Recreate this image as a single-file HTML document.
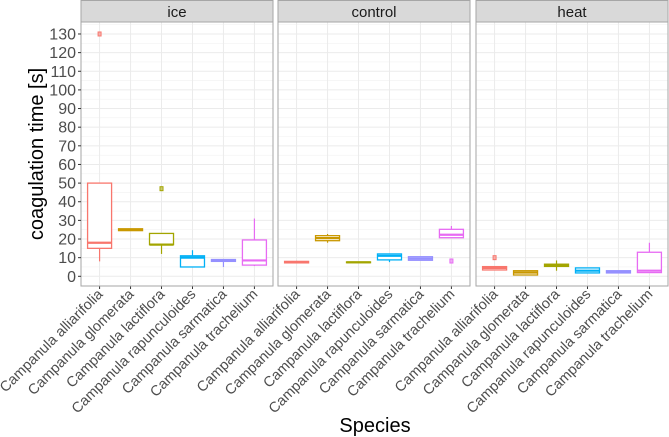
<!DOCTYPE html>
<html><head><meta charset="utf-8"><style>
body{margin:0;background:#fff}
svg{display:block;font-family:"Liberation Sans",sans-serif}
</style></head><body>
<svg id="chart" width="669" height="437"></svg>
<script>
const categories=["Campanula alliarifolia","Campanula glomerata","Campanula lactiflora","Campanula rapunculoides","Campanula sarmatica","Campanula trachelium"];
const panels=["ice","control","heat"];
const colors=["#F8766D","#C99800","#A3A500","#00B0F6","#9590FF","#E76BF3"];
const yTicks=[0,10,20,30,40,50,60,70,80,90,100,110,120,130];
// [lowWhisker, q1, median, q3, highWhisker]
const iceStats=[[8,15,18,50,50],[24.5,24.5,25,25.5,25.5],[12,17,17,23,23],[5,5,10,11,14],[5,8,8.5,9,9],[5.5,6,8.5,19.5,31]];
const controlStats=[[7,7.2,7.6,8,8.3],[18,19.1,20.5,21.8,22.7],[7.2,7.3,7.5,7.7,7.8],[7.6,8.8,11,12,12],[8.6,8.6,9.5,10.5,10.5],[20.7,20.7,22.3,25.2,27]];
const heatStats=[[3.4,3.4,4.5,5.2,5.2],[0.7,0.7,2,3,3],[3,5.3,6,6.5,8.5],[1.8,1.8,3,4.5,4.5],[1.8,1.8,2.5,3,3],[2,2,3,12.9,18]];
const iceOut=[[130],[],[47],[],[],[]];
const controlOut=[[],[],[],[],[],[8.2]];
const heatOut=[[10],[],[],[],[],[]];
const stats=[iceStats,controlStats,heatStats];
const outs=[iceOut,controlOut,heatOut];

const NS="http://www.w3.org/2000/svg";
const svg=document.getElementById("chart");
function mk(t,a,p){const e=document.createElementNS(NS,t);for(const k in a)e.setAttribute(k,a[k]);(p||svg).appendChild(e);return e;}
const pLeft=[81,278,476],pW=192,pTop=22,pBot=286;
const y=v=>276.3-v*1.864;
const step=pW/6.2;
const x=(p,i)=>pLeft[p]+step*(0.6+i);

panels.forEach((name,p)=>{
  const g=mk("g",{});
  
  
  const strip=mk("rect",{x:pLeft[p],y:0.5,width:pW,height:pTop-0.5,fill:"#d9d9d9",stroke:"#a6a6a6","stroke-width":1},g);
  
  
  const st=mk("text",{x:pLeft[p]+pW/2,y:17,"text-anchor":"middle","font-size":15,fill:"#1a1a1a"},g);
  st.textContent=name;
  
  
  for(let v=5;v<=135;v+=10){if(y(v)>pTop)mk("line",{x1:pLeft[p],x2:pLeft[p]+pW,y1:y(v),y2:y(v),stroke:"#f2f2f2","stroke-width":0.6},g);}
  yTicks.forEach(v=>mk("line",{x1:pLeft[p],x2:pLeft[p]+pW,y1:y(v),y2:y(v),stroke:"#ebebeb","stroke-width":1},g));
  categories.forEach((c,i)=>mk("line",{x1:x(p,i),x2:x(p,i),y1:pTop,y2:pBot,stroke:"#ebebeb","stroke-width":1},g));
  categories.forEach((c,i)=>{
    const s=stats[p][i],cx=x(p,i),hw=12,col=colors[i];
    const b=mk("g",{},g);
    
    
    mk("line",{x1:cx,x2:cx,y1:y(s[0]),y2:y(s[1]),stroke:col,"stroke-width":1.2},b);
    mk("line",{x1:cx,x2:cx,y1:y(s[3]),y2:y(s[4]),stroke:col,"stroke-width":1.2},b);
    mk("rect",{x:cx-hw,y:y(s[3]),width:2*hw,height:Math.max(y(s[1])-y(s[3]),0.5),fill:"#fff",stroke:col,"stroke-width":1.3},b);
    mk("line",{x1:cx-hw,x2:cx+hw,y1:y(s[2]),y2:y(s[2]),stroke:col,"stroke-width":2.2},b);
    outs[p][i].forEach(o=>{
      const d=mk("rect",{x:cx-1.5,y:y(o)-2,width:3,height:4,fill:col,"fill-opacity":0.5,stroke:col,"stroke-width":1},b);
      
      
    });
    mk("line",{x1:cx,x2:cx,y1:pBot,y2:pBot+3,stroke:"#333","stroke-width":1},g);
    const t=mk("text",{transform:`translate(${cx+4},${pBot+9}) rotate(-45)`,"text-anchor":"end","font-size":14.5,fill:"#4d4d4d"},g);
    t.textContent=c;
    
    
  });
  mk("rect",{x:pLeft[p],y:pTop,width:pW,height:pBot-pTop,fill:"none",stroke:"#a6a6a6","stroke-width":1},g);
});
yTicks.forEach(v=>{
  mk("line",{x1:78,x2:81,y1:y(v),y2:y(v),stroke:"#333","stroke-width":1});
  const t=mk("text",{x:76,y:y(v)+5.5,"text-anchor":"end","font-size":16,fill:"#4d4d4d"});
  t.textContent=v;
  
  
});
const yt=mk("text",{transform:"translate(43,154) rotate(-90)","text-anchor":"middle","font-size":20,fill:"#000"});
yt.textContent="coagulation time [s]";


const xt=mk("text",{x:375,y:432,"text-anchor":"middle","font-size":20,fill:"#000"});
xt.textContent="Species";


</script>
</body></html>
